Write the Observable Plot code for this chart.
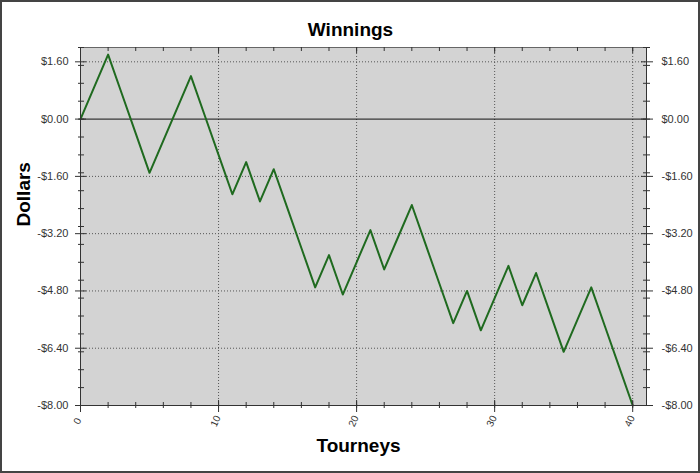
<!DOCTYPE html>
<html>
<head>
<meta charset="utf-8">
<script src="https://cdn.jsdelivr.net/npm/d3@7"></script>
<script src="https://cdn.jsdelivr.net/npm/@observablehq/plot@0.6"></script>
<style>
  html, body { margin: 0; padding: 0; background: #fff; }
  #chart svg { display: block; outline: 2px solid #444; outline-offset: -2px; }
</style>
</head>
<body>
<div id="chart"></div>
<script>
const tourneys = [0,1,2,3,4,5,6,7,8,9,10,11,12,13,14,15,16,17,18,19,20,21,22,23,24,25,26,27,28,29,30,31,32,33,34,35,36,37,38,39,40];
const winnings = [0,0.9,1.8,0.7,-0.4,-1.5,-0.6,0.3,1.2,0.1,-1.0,-2.1,-1.2,-2.3,-1.4,-2.5,-3.6,-4.7,-3.8,-4.9,-4.0,-3.1,-4.2,-3.3,-2.4,-3.5,-4.6,-5.7,-4.8,-5.9,-5.0,-4.1,-5.2,-4.3,-5.4,-6.5,-5.6,-4.7,-5.8,-6.9,-8.0];
const yMajorTicks = [1.6, 0, -1.6, -3.2, -4.8, -6.4, -8];
const yMinorTicks = [2, 1.5, 1, 0.5, 0, -0.5, -1, -1.5, -2, -2.5, -3, -3.5, -4, -4.5, -5, -5.5, -6, -6.5, -7, -7.5, -8];
const yGrid = [1.6, -1.6, -3.2, -4.8, -6.4];
const xMajorTicks = [0, 10, 20, 30, 40];
const xMinorTicks = [0,2,4,6,8,10,12,14,16,18,20,22,24,26,28,30,32,34,36,38,40];
const xGrid = [10, 20, 30, 40];
const titleText = "Winnings";
const xLabel = "Tourneys";
const yLabel = "Dollars";

const data = tourneys.map((t, i) => ({t, w: winnings[i]}));

const W = 700, H = 473, mL = 80, mR = 54, mT = 47, mB = 68;
const pw = W - mL - mR, ph = H - mT - mB;
const fmt = d => (d < 0 ? "-" : "") + "$" + Math.abs(d).toFixed(2);
const axisColor = "#333";
const gridStyle = {stroke: "#555", strokeDasharray: "1,2", strokeWidth: 1};

const chart = Plot.plot({
  width: W, height: H,
  marginLeft: mL, marginRight: mR, marginTop: mT, marginBottom: mB,
  x: {domain: [0, 41], axis: null},
  y: {domain: [-8, 2], axis: null},
  style: {fontFamily: "'Liberation Sans', Arial, sans-serif", fontSize: "11px", background: "#fff", overflow: "visible"},
  marks: [
    Plot.frame({fill: "#d3d3d3", stroke: "#666"}),
    Plot.ruleY(yGrid, {y: d => d, ...gridStyle}),
    Plot.ruleX(xGrid, {x: d => d, ...gridStyle}),
    Plot.ruleY([0], {y: d => d, stroke: "#111", strokeWidth: 1}),
    Plot.line(data, {x: "t", y: "w", stroke: "#1f6a1f", strokeWidth: 2}),
    // axis lines
    Plot.ruleX([0], {x: d => d, stroke: axisColor, insetBottom: -7}),
    Plot.ruleX([41], {x: d => d, stroke: axisColor}),
    Plot.ruleY([-8], {y: d => d, stroke: axisColor, insetLeft: -5, insetRight: -7}),
    // left ticks
    Plot.tickY(yMajorTicks, {y: d => d, stroke: axisColor, insetLeft: -5, insetRight: pw - 6}),
    Plot.tickY(yMinorTicks, {y: d => d, stroke: axisColor, insetLeft: -2, insetRight: pw - 4}),
    // right ticks
    Plot.tickY(yMajorTicks, {y: d => d, stroke: axisColor, insetLeft: pw - 5, insetRight: -7}),
    Plot.tickY(yMinorTicks, {y: d => d, stroke: axisColor, insetLeft: pw - 3, insetRight: -4}),
    // bottom ticks
    Plot.tickX(xMajorTicks, {x: d => d, stroke: axisColor, insetTop: ph - 5, insetBottom: -7}),
    Plot.tickX(xMinorTicks, {x: d => d, stroke: axisColor, insetTop: ph - 3, insetBottom: -3}),
    // top ticks
    Plot.tickX(xMajorTicks, {x: d => d, stroke: axisColor, insetTop: 0, insetBottom: ph - 6}),
    Plot.tickX(xMinorTicks, {x: d => d, stroke: axisColor, insetTop: 0, insetBottom: ph - 4}),
    // tick labels
    Plot.axisY({anchor: "left", ticks: yMajorTicks, tickFormat: fmt, tickSize: 0, tickPadding: 12, label: null, fill: axisColor, fontSize: 11}),
    Plot.axisY({anchor: "right", ticks: yMajorTicks, tickFormat: fmt, tickSize: 0, tickPadding: 15, label: null, fill: axisColor, fontSize: 11}),
    Plot.text(xMajorTicks, {x: d => d, frameAnchor: "bottom", dy: 17, text: d => String(d), rotate: -65, fontSize: 10, fill: axisColor}),
    // titles
    Plot.text([titleText], {text: d => d, frameAnchor: "top", dx: -13, dy: -25, fontSize: 19, fontWeight: "bold", fill: "#000"}),
    Plot.text([xLabel], {text: d => d, frameAnchor: "bottom", dx: -5, dy: 46, fontSize: 19, fontWeight: "bold", fill: "#000"}),
    Plot.text([yLabel], {text: d => d, frameAnchor: "left", dx: -57, rotate: -90, fontSize: 19, fontWeight: "bold", fill: "#000"})
  ]
});
document.getElementById("chart").appendChild(chart);
</script>
</body>
</html>
